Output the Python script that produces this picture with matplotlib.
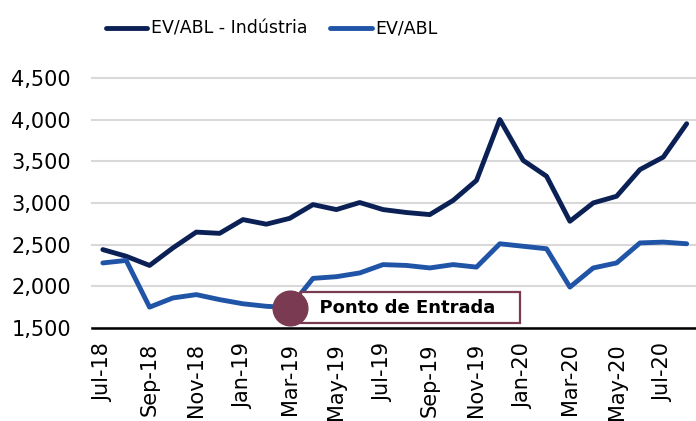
import matplotlib.pyplot as plt
import numpy as np

# monthly series, Jul-18 .. Aug-20
months = ['Jul-18', 'Aug-18', 'Sep-18', 'Oct-18', 'Nov-18', 'Dec-18',
          'Jan-19', 'Feb-19', 'Mar-19', 'Apr-19', 'May-19', 'Jun-19',
          'Jul-19', 'Aug-19', 'Sep-19', 'Oct-19', 'Nov-19', 'Dec-19',
          'Jan-20', 'Feb-20', 'Mar-20', 'Apr-20', 'May-20', 'Jun-20',
          'Jul-20', 'Aug-20']
ev_abl_industria = [2440, 2360, 2250, 2460, 2650, 2635, 2800, 2745, 2815, 2980,
                    2920, 3005, 2920, 2885, 2860, 3030, 3270, 4000, 3510, 3320,
                    2780, 3000, 3080, 3400, 3550, 3950]
ev_abl = [2280, 2310, 1750, 1860, 1900, 1840, 1790, 1760, 1745, 2095,
          2115, 2160, 2260, 2250, 2220, 2260, 2230, 2510, 2480, 2450,
          1990, 2220, 2280, 2520, 2530, 2510]
entry_label = 'Ponto de Entrada'
entry_idx = 8  # Mar-19

dark = '#0B2156'
blue = '#2054A6'
maroon = '#7A3A52'

fig = plt.figure(figsize=(6.96, 4.21), dpi=100)
ax = fig.add_axes([0.132, 0.221, 0.868, 0.594])

x = np.arange(len(months))
ax.plot(x, ev_abl_industria, color=dark, lw=3.5, solid_capstyle='round',
        label='EV/ABL - Indústria', zorder=3)
ax.plot(x, ev_abl, color=blue, lw=3.5, solid_capstyle='round',
        label='EV/ABL', zorder=3)

# entry point marker + label box
ax.plot(x[entry_idx], ev_abl[entry_idx], 'o', color=maroon, ms=25, zorder=5)
ax.text(x[entry_idx] + 0.75, ev_abl[entry_idx], '  ' + entry_label + '   ',
        fontsize=13, fontweight='bold', va='center', ha='left', zorder=4,
        bbox=dict(boxstyle='square,pad=0.34', facecolor='white',
                  edgecolor=maroon, linewidth=1.6))

ax.set_xlim(-0.47, 25.4)
ax.set_ylim(1500, 4500)
ax.set_yticks(np.arange(1500, 4501, 500))
ax.set_yticklabels([f'{v:,}' for v in range(1500, 4501, 500)], fontsize=15)
ax.set_xticks(x[::2])
ax.set_xticklabels(months[::2], rotation=90, fontsize=15)
ax.tick_params(axis='y', length=0, pad=15)
ax.tick_params(axis='x', length=0, pad=11)
ax.yaxis.grid(True, color='#d9d9d9', lw=1.5, clip_on=False)
ax.set_axisbelow(True)
for s in ['top', 'right', 'left']:
    ax.spines[s].set_visible(False)
ax.spines['bottom'].set_linewidth(1.8)
ax.spines['bottom'].set_color('black')

fig.legend(loc='upper center', bbox_to_anchor=(0.39, 0.99), ncol=2, frameon=False,
           fontsize=12.5, handlelength=2.4, columnspacing=1.3, handletextpad=0.2)

fig.savefig('out.png', dpi=100)
